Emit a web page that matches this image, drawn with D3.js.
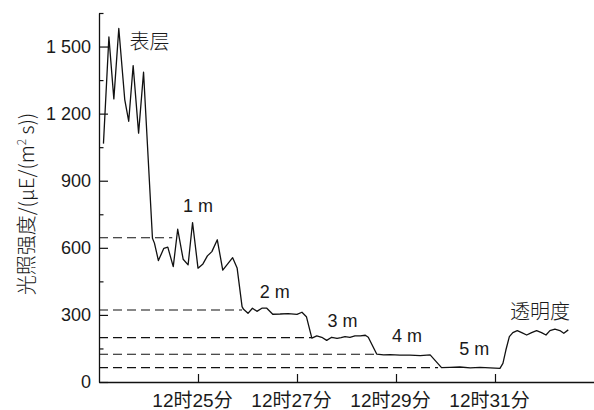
<!DOCTYPE html>
<html>
<head>
<meta charset="utf-8">
<script src="https://cdn.jsdelivr.net/npm/d3@7"></script>
<style>
  html, body { margin: 0; padding: 0; background: #fff; }
  svg { display: block; }
  text { font-family: "Liberation Sans", Arial, "Noto Sans CJK SC", sans-serif; fill: #1a1a1a; }
</style>
</head>
<body>
<svg id="chart" width="594" height="410"></svg>
<script>
// Sampling times, in minutes past 12:00
const minutes = [
  23.09, 23.20, 23.30, 23.40, 23.52, 23.60, 23.69, 23.80, 23.90,
  24.08, 24.12, 24.20, 24.31, 24.39, 24.50, 24.59, 24.70, 24.80, 24.89,
  25.00, 25.10, 25.19, 25.28, 25.39, 25.50, 25.60, 25.70, 25.79,
  25.89, 25.92, 26.01, 26.10, 26.19, 26.29, 26.39, 26.51, 26.66, 26.82,
  27.00, 27.10, 27.19,
  27.30, 27.40, 27.50, 27.60, 27.70, 27.81, 27.89, 27.97, 28.07, 28.17, 28.28, 28.38, 28.44,
  28.61, 28.75, 28.88, 29.08, 29.28, 29.49, 29.69,
  29.92, 30.09, 30.29, 30.50, 30.70, 30.90, 31.10,
  31.16, 31.22, 31.29, 31.36, 31.45, 31.54, 31.64, 31.74, 31.84, 31.94,
  32.03, 32.11, 32.21, 32.31, 32.39, 32.48
];

// Light intensity, μE/(m²·s)
const intensity = [
  1066, 1543, 1266, 1581, 1263, 1166, 1415, 1113, 1385,
  643, 621, 543, 598, 603, 516, 683, 549, 524, 713,
  509, 528, 564, 583, 636, 500, 528, 556, 510,
  337, 325, 307, 330, 316, 330, 330, 303, 304, 306,
  302, 312, 292,
  196, 206, 200, 186, 200, 195, 198, 203, 200, 206, 206, 209, 200,
  125, 121, 122, 120, 120, 118, 121,
  64, 65, 67, 63, 65, 63, 61,
  83, 143, 203, 221, 230, 221, 210, 221, 230, 221,
  210, 230, 236, 230, 218, 233
];

// Mean level at each depth, drawn as dashed guides from the axis
const depthLevels = [645, 322, 198, 124, 64];
const depthEnds   = [24.48, 25.89, 27.29, 28.58, 29.85];

// Text labels on the trace
const segLabels = ["表层", "1 m", "2 m", "3 m", "4 m", "5 m", "透明度"];
const segAt     = [24.02, 25.00, 26.55, 27.92, 29.22, 30.58, 31.91];
const segValue  = [1491, 762, 375, 245, 180, 120, 280];

const yMajorTicks = [0, 300, 600, 900, 1200, 1500];
const yMinorTicks = [150, 450, 750, 1050, 1350, 1650];
const xTicks = [25, 27, 29, 31];

const svg = d3.select("#chart");
const padLeft = 99, padRight = 594, padTop = 13, padBottom = 382;

const x = d3.scaleLinear().domain([23, 33]).range([padLeft, padRight]);
const y = d3.scaleLinear().domain([0, 1650]).range([padBottom, padTop]);

const fmt = d3.formatLocale({ decimal: ".", thousands: " ", grouping: [3], currency: ["", ""] }).format(",d");
const isCJK = i => i === 0 || i === 6;

// Minor ticks on the y axis
svg.append("g")
  .attr("transform", `translate(${padLeft},0)`)
  .call(d3.axisLeft(y).tickValues(yMinorTicks).tickSize(-4.5).tickFormat(""))
  .call(g => g.select(".domain").remove())
  .call(g => g.selectAll("line").attr("stroke", "#111").attr("stroke-width", 1.2));

// Y axis
svg.append("g")
  .attr("transform", `translate(${padLeft},0)`)
  .call(d3.axisLeft(y).tickValues(yMajorTicks).tickSize(-9).tickSizeOuter(0).tickPadding(8).tickFormat(fmt))
  .call(g => g.select(".domain").attr("stroke", "#111").attr("stroke-width", 1.3))
  .call(g => g.selectAll("line").attr("stroke", "#111").attr("stroke-width", 1.2))
  .call(g => g.selectAll("text").attr("font-size", 18).attr("fill", "#1a1a1a")
    .style("font-family", "'Liberation Sans', Arial, sans-serif"));

// X axis
svg.append("g")
  .attr("transform", `translate(0,${padBottom})`)
  .call(d3.axisBottom(x).tickValues(xTicks).tickSize(-8).tickSizeOuter(0).tickPadding(12)
    .tickFormat(m => `12时${m}分`))
  .call(g => g.select(".domain").attr("stroke", "#111").attr("stroke-width", 1.3))
  .call(g => g.selectAll("line").attr("stroke", "#111").attr("stroke-width", 1.2))
  .call(g => g.selectAll("text").attr("font-size", 19).attr("fill", "#1a1a1a").attr("dx", -6)
    .style("font-family", "'Liberation Sans', 'Noto Sans CJK SC', sans-serif"));

// Depth guides
svg.append("g").selectAll("line")
  .data(depthLevels)
  .join("line")
  .attr("x1", x(23))
  .attr("x2", (d, i) => x(depthEnds[i]))
  .attr("y1", d => y(d))
  .attr("y2", d => y(d))
  .attr("stroke", "#111")
  .attr("stroke-width", 1.2)
  .attr("stroke-dasharray", "9,5");

// Light trace
const points = minutes.map((m, i) => [m, intensity[i]]);
svg.append("path")
  .datum(points)
  .attr("fill", "none")
  .attr("stroke", "#111")
  .attr("stroke-width", 1.3)
  .attr("stroke-linejoin", "round")
  .attr("d", d3.line().x(d => x(d[0])).y(d => y(d[1])));

// Segment labels
svg.append("g").selectAll("text")
  .data(segLabels)
  .join("text")
  .attr("x", (d, i) => x(segAt[i]))
  .attr("y", (d, i) => y(segValue[i]))
  .attr("text-anchor", "middle")
  .attr("font-size", (d, i) => isCJK(i) ? 20 : 18)
  .attr("fill", (d, i) => isCJK(i) ? "#2a2a2a" : "#1a1a1a")
  .style("font-family", (d, i) => isCJK(i) ? "'Noto Sans CJK SC', sans-serif" : "'Liberation Sans', Arial, sans-serif")
  .style("font-weight", (d, i) => isCJK(i) ? 300 : 400)
  .text(d => d);

// Y axis title
const title = svg.append("text")
  .attr("transform", "translate(34,204) rotate(-90)")
  .attr("text-anchor", "middle")
  .attr("font-size", 20)
  .attr("fill", "#2a2a2a")
  .style("font-family", "'Noto Sans CJK SC', 'Liberation Sans', sans-serif")
  .style("font-weight", 300);
title.append("tspan").text("光照强度/(μE/(m");
title.append("tspan").attr("font-size", 12).attr("dy", -8).text("2");
title.append("tspan").attr("dy", 8).text(" s))");
</script>
</body>
</html>
